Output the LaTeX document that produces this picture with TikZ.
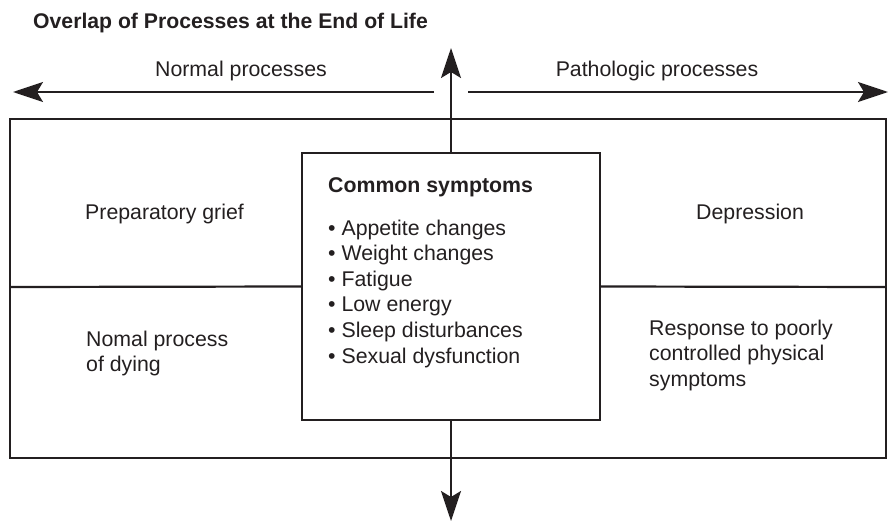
\documentclass[tikz,border=0pt]{standalone}
\usepackage{fontspec}
\setmainfont{Liberation Sans}
\usetikzlibrary{arrows.meta}
\definecolor{ink}{HTML}{231F20}
\begin{document}
\begin{tikzpicture}[x=1pt,y=-1pt,
  frame/.style={draw=ink, line width=2.2pt},
  axis/.style={draw=ink, line width=2.2pt, -{Stealth[length=30pt,width=20pt,inset=6pt]}},
  lbl/.style={font=\fontsize{21.3}{25.6}\selectfont, text=ink, inner sep=0pt},
  % multi-line labels are placed by the baseline of their last line
  lblL/.style={lbl, anchor=base west, align=left}]
\useasboundingbox (0,0) rectangle (889,522);

% outer panel and central box
\draw[frame] (10,119) rectangle (886,458);
\node[frame, minimum width=298pt, minimum height=267pt, inner sep=0pt] (core) at (451,286.5) {};
\draw[frame] (10,287) -- (core.west);
\draw[frame] (core.east) -- (886,287);

% axes
\coordinate (vtop) at (451,48);
\coordinate (vbot) at (451,521);
\coordinate (hl) at (13,92);
\coordinate (hr) at (888,92);
\coordinate (hgl) at (434,92);
\coordinate (hgr) at (468,92);
\draw[axis] (core.north) -- (vtop);
\draw[axis] (core.south) -- (vbot);
\draw[axis] (hgl) -- (hl);
\draw[axis] (hgr) -- (hr);

% title and axis labels
\node[lblL, font=\fontsize{21.2}{25}\selectfont\bfseries] (title) at (33,28) {Overlap of Processes at the End of Life};
\node[lbl, anchor=base] (normal) at (241,76) {Normal processes};
\node[lbl, anchor=base] (patho) at (657,76) {Pathologic processes};

% quadrant labels
\node[lblL] (prep) at (85,219) {Preparatory grief};
\node[lblL] (depr) at (696,219) {Depression};
\node[lblL] (dying) at (86,371.6) {Nomal process\\of dying};
\node[lblL] (resp) at (649,386.2) {Response to poorly\\controlled physical\\symptoms};

% central list
\node[lblL, font=\fontsize{21.3}{25.6}\selectfont\bfseries] (common) at (328,192) {Common symptoms};
\node[lblL] (list) at (328,363) {%
• Appetite changes\\
• Weight changes\\
• Fatigue\\
• Low energy\\
• Sleep disturbances\\
• Sexual dysfunction};
\end{tikzpicture}
\end{document}
